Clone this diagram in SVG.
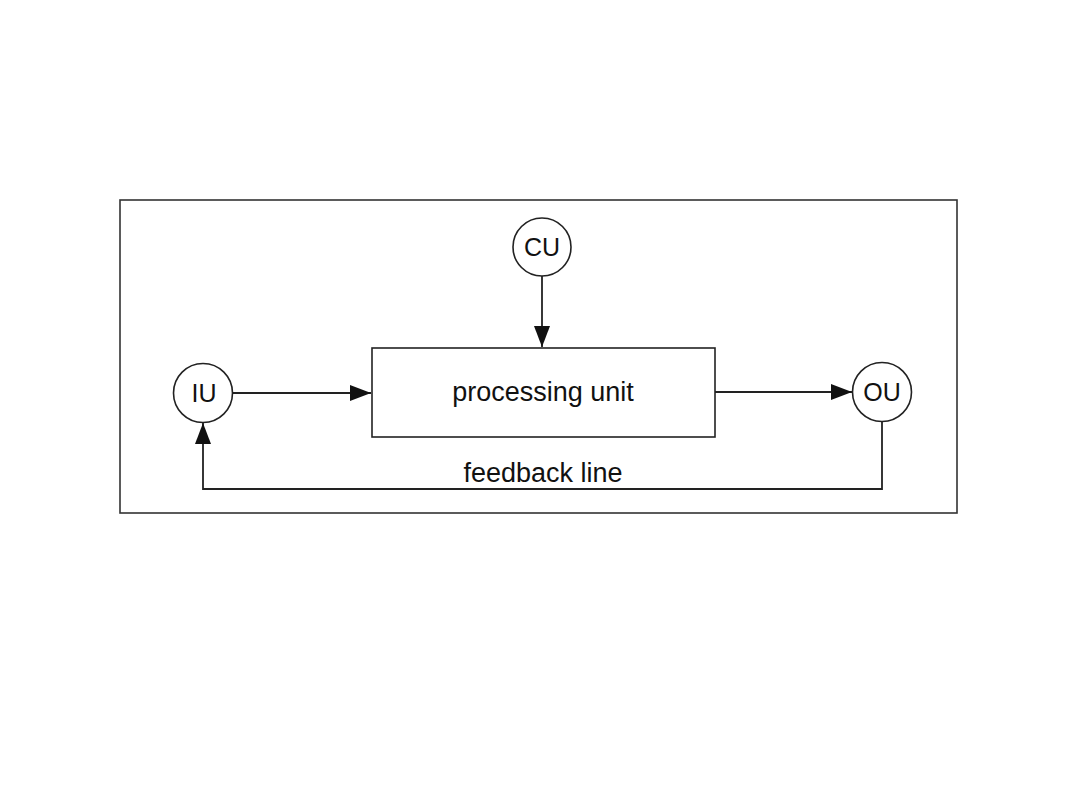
<svg xmlns="http://www.w3.org/2000/svg" width="1080" height="810" viewBox="0 0 1080 810">
<defs>
<style>
.frame{fill:none;stroke:#333;stroke-width:1.6}
.node{fill:#fff;stroke:#222;stroke-width:1.6}
.conn{fill:none;stroke:#222;stroke-width:1.8}
.lbl{font-family:"Liberation Sans",Arial,sans-serif;fill:#111;text-anchor:middle}
</style>
<marker id="arr" markerUnits="userSpaceOnUse" markerWidth="22" markerHeight="16" refX="21" refY="8" orient="auto">
<path d="M0,0 L21,8 L0,16 Z" fill="#111"/>
</marker>
</defs>
<rect width="1080" height="810" fill="#fff"/>
<rect class="frame" x="120" y="200" width="837" height="313"/>
<g id="connectors">
<line class="conn" x1="542" y1="276" x2="542" y2="347" marker-end="url(#arr)"/>
<line class="conn" x1="233" y1="393" x2="371" y2="393" marker-end="url(#arr)"/>
<line class="conn" x1="715" y1="392" x2="852" y2="392" marker-end="url(#arr)"/>
<path class="conn" d="M882,421 V489 H203 V423" marker-end="url(#arr)"/>
<text class="lbl" x="543" y="482" font-size="27">feedback line</text>
</g>
<g id="CU">
<circle class="node" cx="542" cy="247" r="29"/>
<text class="lbl" x="542" y="256" font-size="25">CU</text>
</g>
<g id="IU">
<circle class="node" cx="203" cy="393" r="29.5"/>
<text class="lbl" x="204" y="402" font-size="25">IU</text>
</g>
<g id="OU">
<circle class="node" cx="882" cy="392" r="29.5"/>
<text class="lbl" x="882" y="401" font-size="25">OU</text>
</g>
<g id="processing-unit">
<rect class="node" x="372" y="348" width="343" height="89"/>
<text class="lbl" x="543" y="401" font-size="27">processing unit</text>
</g>
</svg>
